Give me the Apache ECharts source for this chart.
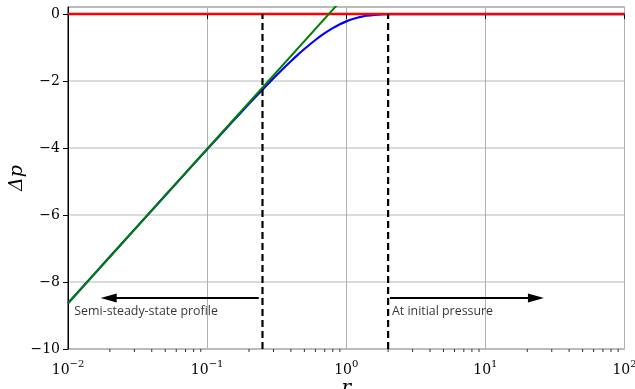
<!DOCTYPE html>
<html>
<head>
<meta charset="utf-8">
<script src="https://cdn.jsdelivr.net/npm/echarts@6/dist/echarts.min.js"></script>
<style>
  html, body { margin: 0; padding: 0; background: #fff; }
  #chart { width: 635px; height: 389px; }
</style>
</head>
<body>
<div id="chart"></div>
<script>
// Radius samples and pressure drop of the transient profile (blue curve)
const radius = [0.01, 0.02, 0.05, 0.1, 0.15, 0.2, 0.25, 0.3, 0.35, 0.4, 0.45, 0.5, 0.6, 0.7, 0.8, 0.9,
                1.0, 1.1, 1.2, 1.3, 1.4, 1.6, 1.8, 2.0, 2.5, 3.0, 5.0, 10, 100];
const deltaP = [-8.633, -7.247, -5.417, -4.038, -3.239, -2.681, -2.257, -1.919, -1.641, -1.409, -1.213, -1.044,
                -0.775, -0.572, -0.420, -0.305, -0.219, -0.156, -0.110, -0.076, -0.051, -0.023, -0.009, -0.004,
                -0.0003, 0, 0, 0, 0];

// Semi-steady-state asymptote (green straight line on log r)
const steadyR = [0.01, 1.0];
const steadyP = [-8.633, 0.577];

// Initial pressure level (red)
const initialR = [0.01, 100];
const initialP = [0, 0];

// Boundaries of the regions (dashed verticals)
const boundaryR = [0.25, 2.0];

// Region arrows and their captions
const arrowY = -8.48;
const arrowLeft = [0.235, 0.0196];
const arrowRight = [2.06, 23.1];
const captions = ['Semi-steady-state profile', 'At initial pressure'];
const captionR = [0.0111, 2.13];
const captionY = -8.87;

// Axis ticks
const xTickExponents = { '0.01': '\u22122', '0.1': '\u22121', '1': '0', '10': '1', '100': '2' };
const minorTickValues = [];
[0.01, 0.1, 1, 10].forEach(function (d) {
  [2, 3, 4, 5, 6, 7, 8, 9].forEach(function (m) { minorTickValues.push(+(m * d).toPrecision(3)); });
});

const zip = (a, b) => a.map((v, i) => [v, b[i]]);

const serif = 'DejaVu Serif';
const chart = echarts.init(document.getElementById('chart'), null, { renderer: 'canvas' });

const dashedSeries = boundaryR.map(function (r) {
  return {
    type: 'line',
    data: [[r, -10], [r, 0]],
    symbol: 'none',
    lineStyle: { color: '#000', width: 2.2, type: [7, 4] },
    z: 4,
    silent: true
  };
});

function arrowLine(pair) {
  return [
    { coord: [pair[0], arrowY], symbol: 'none' },
    { coord: [pair[1], arrowY], symbol: 'triangle', symbolSize: [9, 16] }
  ];
}

chart.setOption({
  animation: false,
  grid: {
    left: 68, right: 10.5, top: 7, bottom: 40,
    outerBoundsMode: 'none',
    containLabel: false,
    show: true, borderColor: '#000', borderWidth: 1, backgroundColor: 'transparent'
  },
  xAxis: {
    type: 'log',
    logBase: 10,
    min: 0.01,
    max: 100,
    name: '{n|r}',
    nameLocation: 'middle',
    nameGap: 30,
    nameMoveOverlap: false,
    nameTextStyle: {
      rich: { n: { fontFamily: serif, fontStyle: 'italic', fontSize: 20, color: '#000' } }
    },
    axisLine: { show: true, lineStyle: { color: '#000', width: 1 } },
    axisTick: { show: true, inside: false, length: 5, lineStyle: { color: '#000', width: 1 } },
    splitLine: { show: true, lineStyle: { color: '#b0b0b0', width: 1 } },
    minorTick: { show: false },
    axisLabel: {
      margin: 10,
      color: '#000',
      formatter: function (v) {
        const key = String(+v.toPrecision(3));
        return '{b|10}{s|' + (xTickExponents[key] || '') + '}';
      },
      rich: {
        b: { fontFamily: serif, fontSize: 14, color: '#000', verticalAlign: 'bottom' },
        s: { fontFamily: serif, fontSize: 10, color: '#000', verticalAlign: 'top', padding: [0, 0, 8, 0] }
      }
    }
  },
  yAxis: {
    type: 'value',
    min: -10,
    max: 0.21,
    interval: 2,
    name: '{n|\u0394p}',
    nameLocation: 'middle',
    nameGap: 41,
    nameRotate: 90,
    nameMoveOverlap: false,
    nameTextStyle: {
      rich: { n: { fontFamily: serif, fontStyle: 'italic', fontSize: 19, color: '#000' } }
    },
    axisLine: { show: true, lineStyle: { color: '#000', width: 1 } },
    axisTick: { show: true, inside: false, length: 5, lineStyle: { color: '#000', width: 1 } },
    splitLine: { show: true, lineStyle: { color: '#cfcfcf', width: 1.5 } },
    axisLabel: {
      margin: 8,
      showMaxLabel: false,
      color: '#000',
      fontFamily: serif,
      fontSize: 14,
      formatter: function (v) { return v < 0 ? '\u2212' + Math.abs(v) : String(v); }
    }
  },
  series: [
    {
      type: 'line',
      data: zip(radius, deltaP),
      symbol: 'none',
      smooth: 0.3,
      lineStyle: { color: '#0000ff', width: 2.2 },
      z: 2,
      silent: true
    },
    {
      type: 'line',
      data: zip(initialR, initialP),
      symbol: 'none',
      lineStyle: { color: '#ff0000', width: 2.6 },
      z: 3,
      silent: true
    },
    {
      type: 'line',
      data: zip(steadyR, steadyP),
      symbol: 'none',
      clip: true,
      lineStyle: { color: '#008000', width: 2 },
      z: 3,
      silent: true
    }
  ].concat(dashedSeries).concat([
    {
      type: 'line',
      data: [],
      silent: true,
      markLine: {
        silent: true,
        animation: false,
        label: { show: false },
        lineStyle: { color: '#000', width: 2.2, type: 'solid' },
        itemStyle: { color: '#000' },
        emphasis: { disabled: true },
        data: [arrowLine(arrowLeft), arrowLine(arrowRight)]
      },
      z: 5
    },
    {
      type: 'scatter',
      symbolSize: 0,
      silent: true,
      data: captions.map(function (t, i) {
        return { value: [captionR[i], captionY], name: t };
      }),
      label: {
        show: true,
        position: [0, 0],
        align: 'left',
        verticalAlign: 'middle',
        formatter: function (p) { return '{c|' + p.name + '}'; },
        rich: { c: { fontFamily: 'Open Sans', fontSize: 12.4, color: '#000' } }
      },
      z: 5
    },
    {
      // minor ticks of the logarithmic r axis
      type: 'custom',
      silent: true,
      clip: false,
      data: minorTickValues.map(function (v) { return [v, -10]; }),
      encode: { x: 0, y: 1 },
      renderItem: function (params, api) {
        const p = api.coord([api.value(0), api.value(1)]);
        return {
          type: 'line',
          shape: { x1: p[0], y1: p[1], x2: p[0], y2: p[1] + 3 },
          style: { stroke: '#000', lineWidth: 0.8 }
        };
      },
      z: 6
    }
  ])
});
</script>
</body>
</html>
